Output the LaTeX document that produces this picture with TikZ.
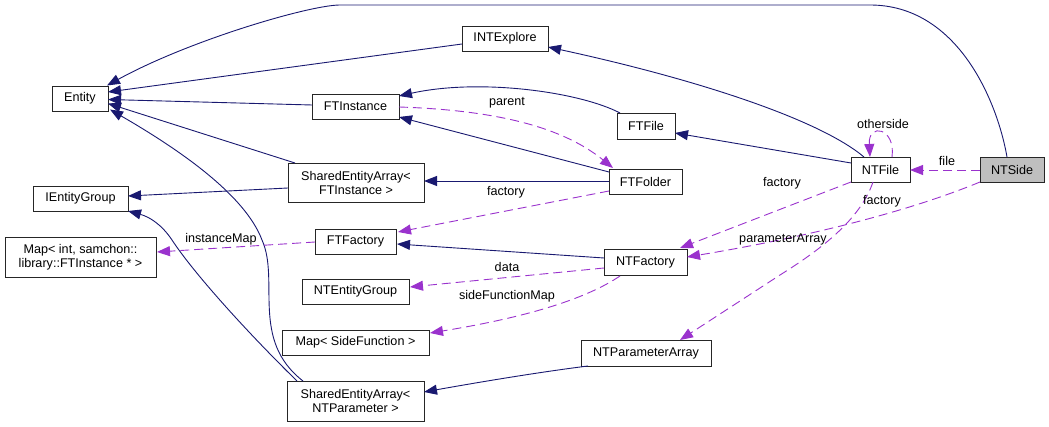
\documentclass[tikz,border=0pt]{standalone}
\usepackage{fontspec}
\setmainfont{Liberation Sans}
\usetikzlibrary{arrows.meta,calc}
\definecolor{navyc}{HTML}{191970}
\definecolor{purpc}{HTML}{9A32CD}
\definecolor{grayfill}{HTML}{BFBFBF}
\newcommand\dxfont{\fontsize{12.6}{14}\selectfont}
\tikzset{
  box/.style={draw=black!85, line width=0.9pt, fill=white, inner sep=0pt, align=center, font=\dxfont},
  inh/.style={draw=navyc, line width=0.9pt, -{Triangle[length=13pt,width=10pt]}},
  use/.style={draw=purpc, line width=0.9pt, dash pattern=on 9pt off 5pt, -{Triangle[length=13pt,width=10pt,fill=purpc]}},
  lbl/.style={inner sep=0pt, font=\dxfont}
}
\begin{document}
\begin{tikzpicture}[x=1pt,y=-1pt]
\useasboundingbox (0,0) rectangle (1049,427);
% nodes
\node[box, minimum width=56pt, minimum height=25pt] (Entity) at (80,98.5) {Entity};
\node[box, minimum width=86pt, minimum height=25pt] (INTExplore) at (505,38.5) {INTExplore};
\node[box, minimum width=87pt, minimum height=25pt] (FTInstance) at (355.5,106.5) {FTInstance};
\node[box, minimum width=58pt, minimum height=26pt] (FTFile) at (646,126) {FTFile};
\node[box, minimum width=73pt, minimum height=25pt] (FTFolder) at (645.5,181.5) {FTFolder};
\node[box, minimum width=59pt, minimum height=25pt] (NTFile) at (880.5,169.5) {NTFile};
\node[box, fill=grayfill, minimum width=64pt, minimum height=25pt] (NTSide) at (1012,169.5) {NTSide};
\node[box, minimum width=95pt, minimum height=25pt] (IEntityGroup) at (80.5,198.5) {IEntityGroup};
\node[box, minimum width=151pt, minimum height=40pt] (MapInt) at (80.5,257) {Map< int, samchon::\\library::FTInstance * >};
\node[box, minimum width=136pt, minimum height=39pt] (SEAFT) at (356,182.5) {SharedEntityArray<\\FTInstance >};
\node[box, minimum width=81pt, minimum height=25pt] (FTFactory) at (355.5,241.5) {FTFactory};
\node[box, minimum width=107pt, minimum height=25pt] (NTEntityGroup) at (355.5,291.5) {NTEntityGroup};
\node[box, minimum width=83pt, minimum height=26pt] (NTFactory) at (645.5,262) {NTFactory};
\node[box, minimum width=147pt, minimum height=25pt] (MapSide) at (355.5,342.5) {Map< SideFunction >};
\node[box, minimum width=130pt, minimum height=26pt] (NTParamArr) at (646,353) {NTParameterArray};
\node[box, minimum width=137pt, minimum height=40pt] (SEANT) at (355.5,401) {SharedEntityArray<\\NTParameter >};
% inheritance edges
\draw[inh] ($(NTSide.center)+(-5,-12.5)$) .. controls (997,100) and (957,5) .. (870,5) -- (340,5) .. controls (310,5) and (190,40) .. ($(Entity.center)+(27,-13)$);
\draw[inh] ($(INTExplore.center)+(-43,5.5)$) -- ($(Entity.center)+(28,-6.5)$);
\draw[inh] ($(NTFile.center)+(-16.5,-12.5)$) .. controls (820,120) and (700,80) .. ($(INTExplore.center)+(43,8.5)$);
\draw[inh] ($(FTInstance.center)+(-43.5,-1.5)$) -- ($(Entity.center)+(28,1)$);
\draw[inh] ($(FTFile.center)+(-26,-13)$) .. controls (580,92) and (480,78) .. ($(FTInstance.center)+(43.5,-10.5)$);
\draw[inh] ($(FTFolder.center)+(-36.5,-9.5)$) -- ($(FTInstance.center)+(43.5,10.5)$);
\draw[inh] ($(FTFolder.center)+(-36.5,-0.5)$) -- ($(SEAFT.center)+(68,-1.5)$);
\draw[inh] ($(NTFile.center)+(-29.5,-6.5)$) -- ($(FTFile.center)+(29,7)$);
\draw[inh] ($(SEAFT.center)+(-61,-19.5)$) -- ($(Entity.center)+(28,5)$);
\draw[inh] ($(SEAFT.center)+(-68,5.5)$) -- ($(IEntityGroup.center)+(47.5,-2.5)$);
\draw[inh] ($(SEANT.center)+(-52.5,-20)$) .. controls (250,340) and (280,280) .. (262,240) .. controls (245,195) and (180,150) .. ($(Entity.center)+(30,11)$);
\draw[inh] ($(SEANT.center)+(-58.5,-20)$) .. controls (250,335) and (195,275) .. (172,240) .. controls (162,225) and (150,217) .. ($(IEntityGroup.center)+(47.5,12.5)$);
\draw[inh] ($(NTParamArr.center)+(-58,13)$) .. controls (540,372) and (480,382) .. ($(SEANT.center)+(68.5,-9)$);
\draw[inh] ($(NTFactory.center)+(-41.5,-4)$) -- ($(FTFactory.center)+(41.5,2.5)$);
% usage edges
\draw[use] ($(FTInstance.center)+(43.5,0.5)$) .. controls (490,110) and (560,125) .. ($(FTFolder.center)+(-32.5,-13.5)$);
\draw[use] ($(FTFolder.center)+(-36.5,9.5)$) -- ($(FTFactory.center)+(42.5,-9.5)$);
\draw[use] ($(FTFactory.center)+(-40.5,0.5)$) -- ($(MapInt.center)+(76.5,-5)$);
\draw[use] ($(NTFactory.center)+(-41.5,6)$) -- ($(NTEntityGroup.center)+(54.5,-4.5)$);
\draw[use] ($(NTFactory.center)+(-25.5,14)$) .. controls (580,303) and (510,320) .. ($(MapSide.center)+(74.5,-9.5)$);
\draw[use] ($(NTFile.center)+(-29.5,12.5)$) -- ($(NTFactory.center)+(34.5,-14)$);
\draw[use] ($(NTSide.center)+(-32,12.5)$) .. controls (900,215) and (790,240) .. ($(NTFactory.center)+(41.5,-5)$);
\draw[use] ($(NTFile.center)+(-7.5,12.5)$) .. controls (860,220) and (820,250) .. (780,275) -- ($(NTParamArr.center)+(34,-13)$);
\draw[use] ($(NTSide.center)+(-32,0.5)$) -- ($(NTFile.center)+(29.5,0.5)$);
\draw[use] ($(NTFile.center)+(11.5,-12.5)$) .. controls (896,128) and (868,122) .. ($(NTFile.center)+(-10.5,-12.5)$);
% labels
\node[lbl] (lparent) at (507,103) {parent};
\node[lbl] (lfactory1) at (506,192) {factory};
\node[lbl] (linstmap) at (221,239) {instanceMap};
\node[lbl] (ldata) at (507,267) {data};
\node[lbl] (lsidefm) at (507,296) {sideFunctionMap};
\node[lbl] (lfactory2) at (782,183) {factory};
\node[lbl] (lparamarr) at (783,239) {parameterArray};
\node[lbl] (lfactory3) at (882,201) {factory};
\node[lbl] (lfile) at (947,161) {file};
\node[lbl] (lotherside) at (883,124) {otherside};
\end{tikzpicture}
\end{document}
